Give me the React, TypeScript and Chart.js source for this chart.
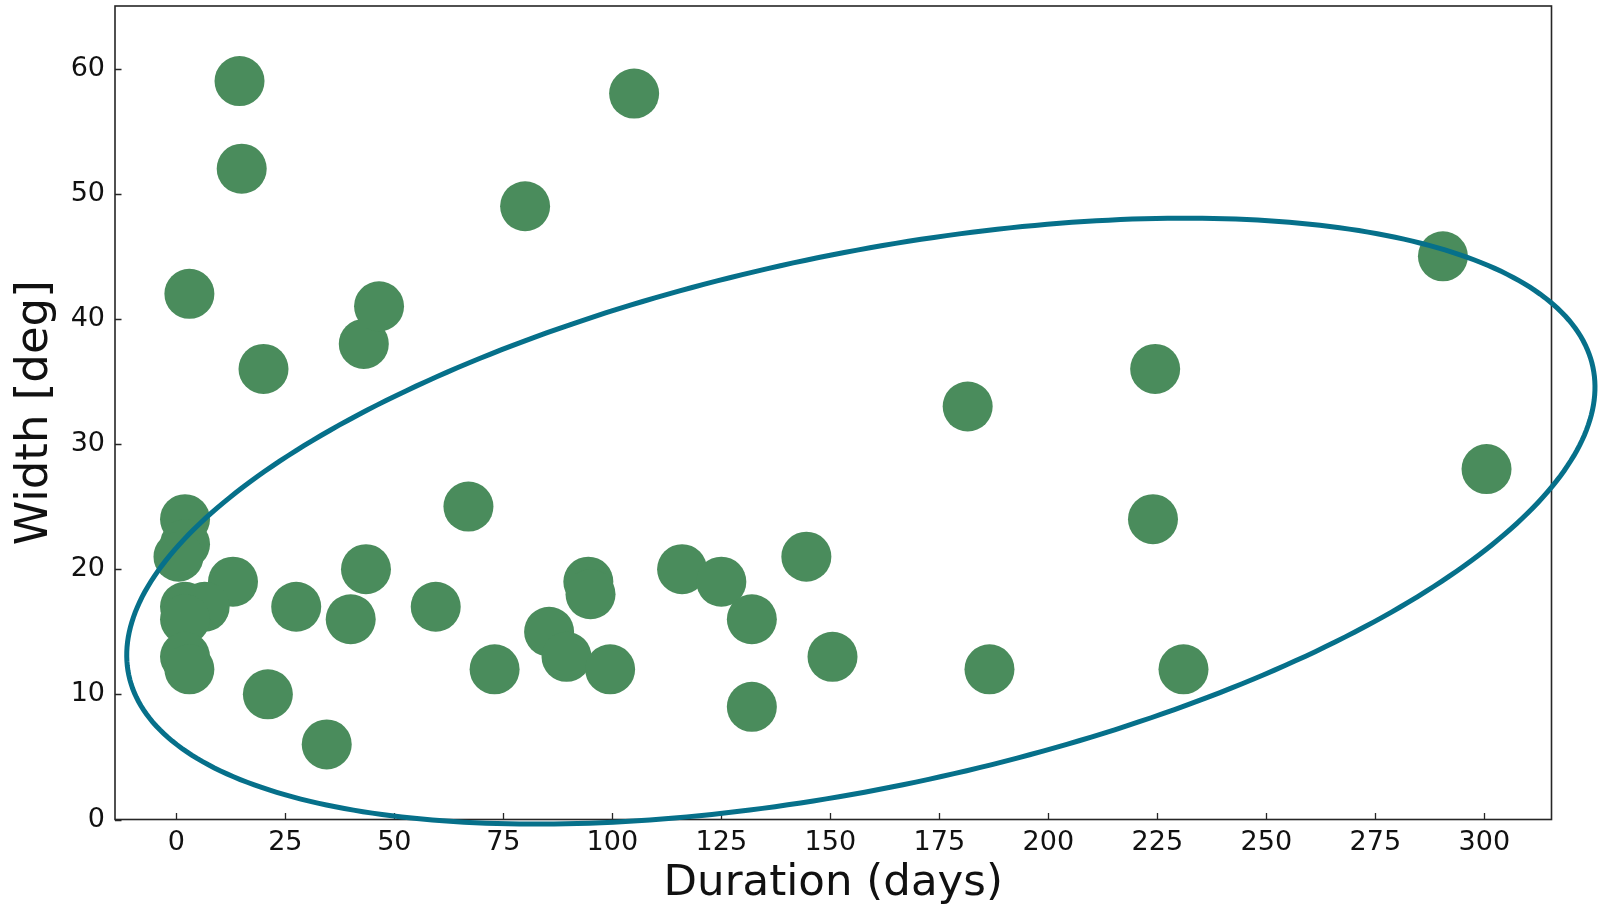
import { useEffect, useRef } from 'react';
import { Chart, registerables } from 'chart.js';

Chart.register(...registerables);

// Event duration (days) and angular width (deg), one entry per event
const durationDays = [
  14.5, 15, 3, 20, 43, 46.5, 80, 105, 290.5, 224.5, 181.5, 300.5, 224, 144.5,
  67, 43.5, 116, 125, 94.5, 95, 132, 85.5, 89.5, 99.5, 73, 59.5, 40, 27.5, 13,
  21, 34.5, 150.5, 186.5, 231, 132, 2, 2, 0.5, 2, 6.5, 2, 2, 3,
];
const widthDeg = [
  59, 52, 42, 36, 38, 41, 49, 58, 45, 36, 33, 28, 24, 21,
  25, 20, 20, 19, 19, 18, 16, 15, 13, 12, 12, 17, 16, 17, 19,
  10, 6, 13, 12, 12, 9, 24, 22, 21, 17, 17, 16, 13, 12,
];

const xTickValues = [0, 25, 50, 75, 100, 125, 150, 175, 200, 225, 250, 275, 300];
const yTickValues = [0, 10, 20, 30, 40, 50, 60];

// Highlight ellipse in data units: centre, half major-axis vector, half minor-axis vector
const ellipseCenter = [157, 23.84];
const ellipseMajor = [167.9, 12.3];
const ellipseMinor = [12.6, -20.85];

const POINT_COLOR = '#4a8c5c';
const ELLIPSE_COLOR = '#06708a';
const FRAME_COLOR = '#262626';
const FONT = "'DejaVu Sans', sans-serif";

const framePlugin = {
  id: 'frameAndEllipse',
  afterDatasetsDraw(chart: any) {
    const { ctx, chartArea, scales } = chart;
    const { left, top, right, bottom } = chartArea;
    const xs = scales.x;
    const ys = scales.y;
    ctx.save();

    // inward tick marks
    ctx.strokeStyle = FRAME_COLOR;
    ctx.lineWidth = 1.3;
    ctx.beginPath();
    xTickValues.forEach((v) => {
      const px = Math.round(xs.getPixelForValue(v)) + 0.5;
      ctx.moveTo(px, bottom);
      ctx.lineTo(px, bottom - 6.5);
    });
    yTickValues.forEach((v) => {
      const py = Math.round(ys.getPixelForValue(v)) + 0.5;
      ctx.moveTo(left, py);
      ctx.lineTo(left + 6.5, py);
    });
    ctx.stroke();

    // axes frame
    ctx.lineWidth = 1.6;
    ctx.strokeRect(left, top, right - left, bottom - top);

    // highlight ellipse
    ctx.strokeStyle = ELLIPSE_COLOR;
    ctx.lineWidth = 5;
    ctx.beginPath();
    const steps = 360;
    for (let i = 0; i <= steps; i++) {
      const t = (i / steps) * Math.PI * 2;
      const dx = ellipseCenter[0] + Math.cos(t) * ellipseMajor[0] + Math.sin(t) * ellipseMinor[0];
      const dy = ellipseCenter[1] + Math.cos(t) * ellipseMajor[1] + Math.sin(t) * ellipseMinor[1];
      const px = xs.getPixelForValue(dx);
      const py = ys.getPixelForValue(dy);
      if (i === 0) ctx.moveTo(px, py);
      else ctx.lineTo(px, py);
    }
    ctx.closePath();
    ctx.stroke();

    ctx.restore();
  },
};

export default function App() {
  const canvasRef = useRef<HTMLCanvasElement | null>(null);

  useEffect(() => {
    document.body.style.margin = '0';
    const canvas = canvasRef.current;
    if (!canvas) return;

    const chart = new Chart(canvas, {
      type: 'scatter',
      data: {
        datasets: [
          {
            data: durationDays.map((d, i) => ({ x: d, y: widthDeg[i] })),
            backgroundColor: POINT_COLOR,
            borderWidth: 0,
            pointRadius: 25,
            pointHoverRadius: 25,
            clip: false as any,
          },
        ],
      },
      options: {
        animation: false,
        responsive: false,
        devicePixelRatio: 1,
        events: [],
        layout: { autoPadding: false, padding: { left: 0, top: 6, right: 52.5, bottom: 0 } },
        plugins: {
          legend: { display: false },
          tooltip: { enabled: false },
        },
        scales: {
          x: {
            type: 'linear',
            min: -14.06,
            max: 315.4,
            grid: { display: false, drawTicks: false },
            border: { display: false },
            afterBuildTicks: (scale: any) => {
              scale.ticks = xTickValues.map((v) => ({ value: v }));
            },
            afterFit: (scale: any) => {
              scale.height = 90.5;
              scale.paddingLeft = 0;
              scale.paddingRight = 0;
            },
            ticks: {
              autoSkip: false,
              maxRotation: 0,
              padding: 7,
              color: '#111',
              font: { family: FONT, size: 27 },
            },
            title: {
              display: true,
              text: 'Duration (days)',
              color: '#111',
              font: { family: FONT, size: 43.5 },
              padding: { top: 0, bottom: 0 },
            },
          },
          y: {
            type: 'linear',
            min: 0,
            max: 65,
            grid: { display: false, drawTicks: false },
            border: { display: false },
            afterBuildTicks: (scale: any) => {
              scale.ticks = yTickValues.map((v) => ({ value: v }));
            },
            afterFit: (scale: any) => {
              scale.width = 115;
              scale.paddingTop = 0;
              scale.paddingBottom = 0;
            },
            ticks: {
              autoSkip: false,
              padding: 10,
              color: '#111',
              font: { family: FONT, size: 27 },
            },
            title: {
              display: true,
              text: 'Width [deg]',
              color: '#111',
              font: { family: FONT, size: 45 },
              padding: { top: 8, bottom: 0 },
            },
          },
        },
      },
      plugins: [framePlugin],
    });

    return () => chart.destroy();
  }, []);

  return (
    <div style={{ width: 1604, height: 910, position: 'relative', background: '#fff' }}>
      <canvas ref={canvasRef} width={1604} height={910} />
    </div>
  );
}
